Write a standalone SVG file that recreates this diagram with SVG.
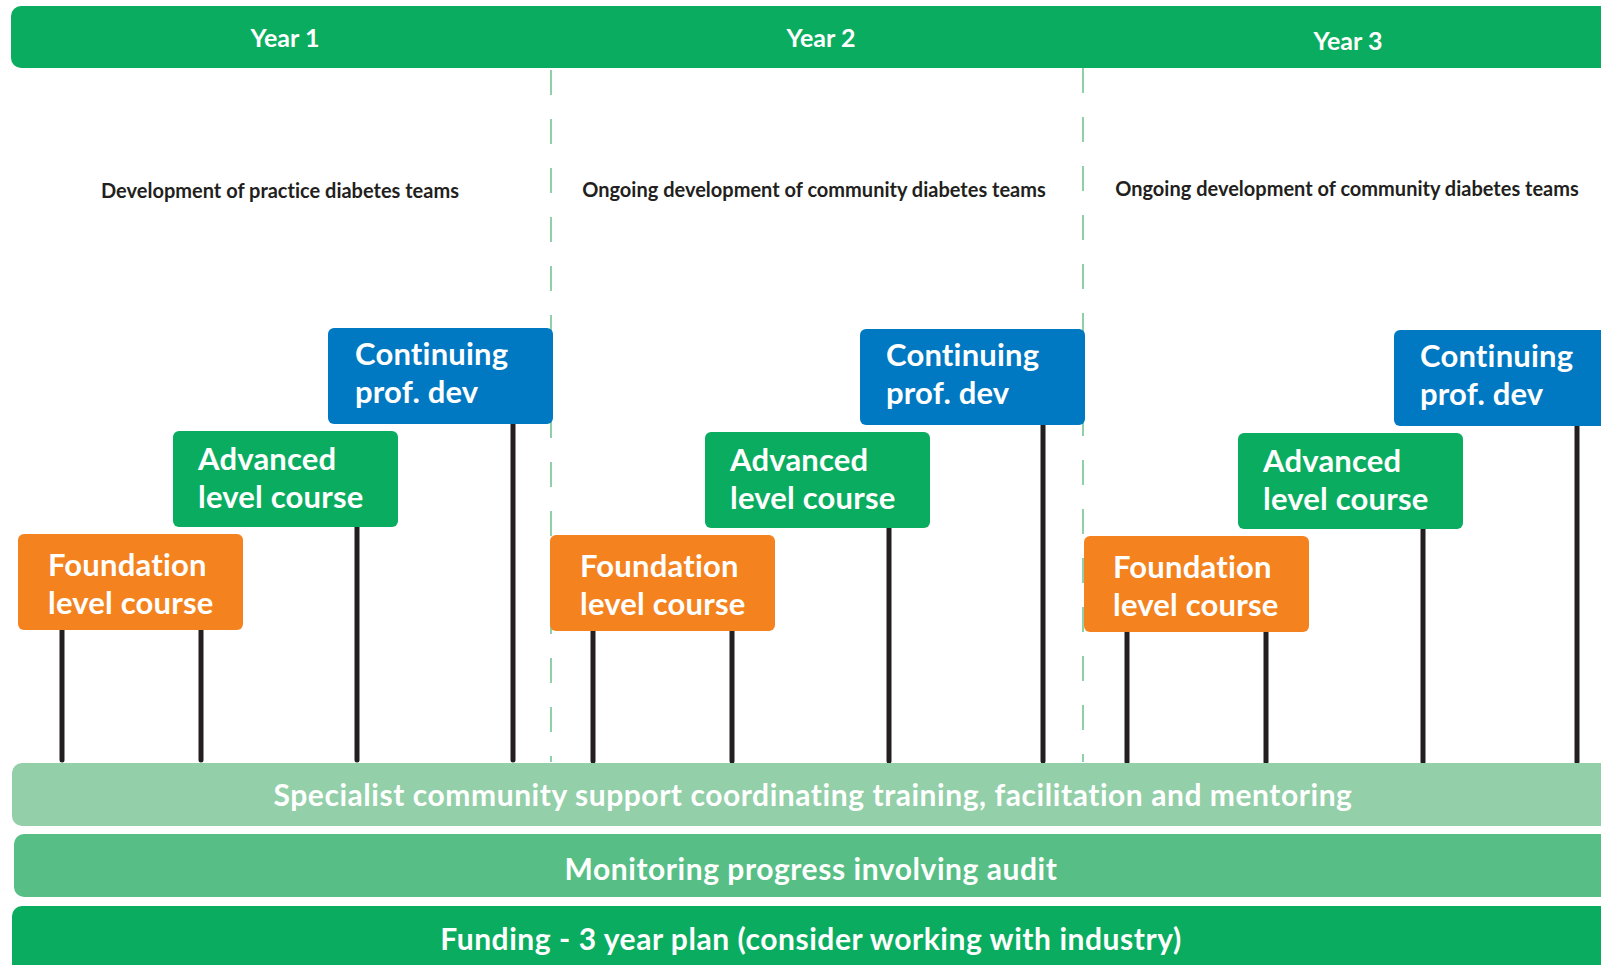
<svg xmlns="http://www.w3.org/2000/svg" width="1601" height="965" viewBox="0 0 1601 965">
<style>
text{font-variant-ligatures:none;font-feature-settings:"liga" 0,"dlig" 0}
.yr{font-family:Lato,"Open Sans",sans-serif;font-weight:700;font-size:25px;fill:#fff;text-anchor:middle}
.sub{font-family:Lato,"Open Sans",sans-serif;font-weight:700;font-size:20px;fill:#231f20;text-anchor:middle}
.bx{font-family:Lato,"Open Sans",sans-serif;font-weight:700;font-size:31px;letter-spacing:0.2px;fill:#fff}
.bar{font-family:Lato,"Open Sans",sans-serif;font-weight:700;font-size:30px;letter-spacing:0.55px;fill:#fff;text-anchor:middle}
.fnd{fill:#f4831f}
.adv{fill:#0aad5f}
.cpd{fill:#0079c2}
.stem{stroke:#231f20;stroke-width:5;stroke-linecap:round;fill:none}
.div{stroke:#8fd0a8;stroke-width:2;stroke-dasharray:25 24;fill:none}
</style>
<rect width="1601" height="965" fill="#fff"/>
<g id="header">
<path d="M21 6H1601V68H21A10 10 0 0 1 11 58V16A10 10 0 0 1 21 6Z" fill="#0aad5f"/>
<text class="yr" x="285" y="47">Year 1</text>
<text class="yr" x="821" y="47">Year 2</text>
<text class="yr" x="1348" y="50">Year 3</text>
</g>
<g id="dividers">
<line class="div" x1="551" y1="70" x2="551" y2="762"/>
<line class="div" x1="1083" y1="68" x2="1083" y2="762"/>
</g>
<g id="subtitles">
<text class="sub" x="280" y="198">Development of practice diabetes teams</text>
<text class="sub" x="814" y="197">Ongoing development of community diabetes teams</text>
<text class="sub" x="1347" y="196">Ongoing development of community diabetes teams</text>
</g>
<g id="connectors">
<line class="stem" x1="62" y1="630" x2="62" y2="760"/>
<line class="stem" x1="201" y1="630" x2="201" y2="760"/>
<line class="stem" x1="357" y1="527" x2="357" y2="760"/>
<line class="stem" x1="513" y1="424" x2="513" y2="760"/>
<line class="stem" x1="593" y1="631" x2="593" y2="761"/>
<line class="stem" x1="732" y1="631" x2="732" y2="761"/>
<line class="stem" x1="889" y1="528" x2="889" y2="761"/>
<line class="stem" x1="1043" y1="425" x2="1043" y2="761"/>
<line class="stem" x1="1127" y1="632" x2="1127" y2="762"/>
<line class="stem" x1="1266" y1="632" x2="1266" y2="762"/>
<line class="stem" x1="1423" y1="529" x2="1423" y2="762"/>
<line class="stem" x1="1577" y1="426" x2="1577" y2="762"/>
</g>
<g id="y1-foundation"><rect class="fnd" x="18" y="534" width="225" height="96" rx="6"/><text class="bx" x="48" y="576">Foundation</text><text class="bx" x="48" y="614">level course</text></g>
<g id="y1-advanced"><rect class="adv" x="173" y="431" width="225" height="96" rx="6"/><text class="bx" x="198" y="470">Advanced</text><text class="bx" x="198" y="508">level course</text></g>
<g id="y1-cpd"><rect class="cpd" x="328" y="328" width="225" height="96" rx="6"/><text class="bx" x="355" y="365">Continuing</text><text class="bx" x="355" y="403">prof. dev</text></g>
<g id="y2-foundation"><rect class="fnd" x="550" y="535" width="225" height="96" rx="6"/><text class="bx" x="580" y="577">Foundation</text><text class="bx" x="580" y="615">level course</text></g>
<g id="y2-advanced"><rect class="adv" x="705" y="432" width="225" height="96" rx="6"/><text class="bx" x="730" y="471">Advanced</text><text class="bx" x="730" y="509">level course</text></g>
<g id="y2-cpd"><rect class="cpd" x="860" y="329" width="225" height="96" rx="6"/><text class="bx" x="886" y="366">Continuing</text><text class="bx" x="886" y="404">prof. dev</text></g>
<g id="y3-foundation"><rect class="fnd" x="1084" y="536" width="225" height="96" rx="6"/><text class="bx" x="1113" y="578">Foundation</text><text class="bx" x="1113" y="616">level course</text></g>
<g id="y3-advanced"><rect class="adv" x="1238" y="433" width="225" height="96" rx="6"/><text class="bx" x="1263" y="472">Advanced</text><text class="bx" x="1263" y="510">level course</text></g>
<g id="y3-cpd"><rect class="cpd" x="1394" y="330" width="225" height="96" rx="6"/><text class="bx" x="1420" y="367">Continuing</text><text class="bx" x="1420" y="405">prof. dev</text></g>
<g id="support-bar">
<path d="M22 763H1601V826H22A10 10 0 0 1 12 816V773A10 10 0 0 1 22 763Z" fill="#93cfa8"/>
<text class="bar" x="813" y="806">Specialist community support coordinating training, facilitation and mentoring</text>
</g>
<g id="monitoring-bar">
<path d="M24 834H1601V897H24A10 10 0 0 1 14 887V844A10 10 0 0 1 24 834Z" fill="#57bf86"/>
<text class="bar" x="811" y="880">Monitoring progress involving audit</text>
</g>
<g id="funding-bar">
<path d="M22 906H1601V975H22A10 10 0 0 1 12 965V916A10 10 0 0 1 22 906Z" fill="#0aad5f"/>
<text class="bar" x="811" y="950">Funding - 3 year plan (consider working with industry)</text>
</g>
</svg>
